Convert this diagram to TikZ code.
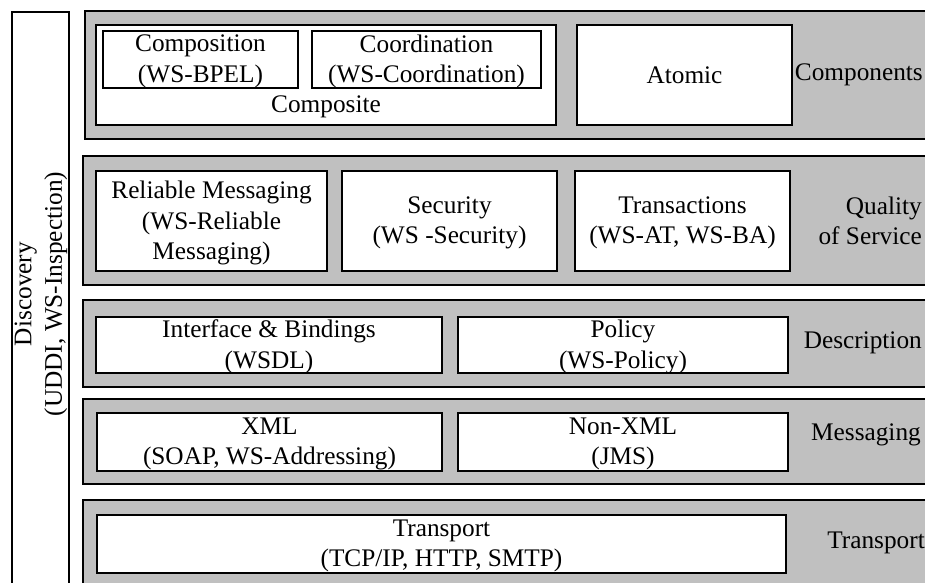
\documentclass[tikz,border=0pt]{standalone}
\usepackage{fontspec}
\setmainfont{Liberation Serif}
\usetikzlibrary{fit}
\definecolor{layergray}{RGB}{192,192,192}
\tikzset{
  base/.style={draw=black, line width=1.3pt, inner sep=0pt},
  layer/.style={base, fill=layergray},
  box/.style={base, fill=white},
  txt/.style={inner sep=0pt, align=center,
    font=\fontsize{25.3}{30.5}\selectfont},
  lbl/.style={txt, align=right, anchor=east},
}
\begin{document}
\begin{tikzpicture}[x=1pt, y=-1pt]
  \useasboundingbox (0,0) rectangle (925,582);
  \clip (0,0) rectangle (925,582);

  % vertical discovery column
  \node[box, fit={(12,12) (69,600)}] (disc) {};
  \node[txt, rotate=90] (disctext) at (41,294)
    {Discovery\\(UDDI, WS-Inspection)};

  % stacked layers
  \node[layer, fit={(85,11) (940,139)}]  (components) {};
  \node[layer, fit={(83,156) (940,285)}] (qos) {};
  \node[layer, fit={(83,300) (940,387)}] (description) {};
  \node[layer, fit={(83,399) (940,484)}] (messaging) {};
  \node[layer, fit={(83,500) (940,600)}] (transport) {};

  % components layer
  \node[box, fit={(96,25) (556,125)}] (composite) {};
  \node[box, fit={(103,31) (298,88)}] (composition) {};
  \node[txt] (compositiontext) at ([yshift=-2pt]composition.center) {Composition\\(WS-BPEL)};
  \node[box, fit={(312,31) (541,88)}] (coordination) {};
  \node[txt] (coordinationtext) at ([yshift=-2pt]coordination.center) {Coordination\\(WS-Coordination)};
  \node[txt] (compositetext) at (326,107) {Composite};
  \node[box, fit={(577,25) (792,125)}] (atomic) {};
  \node[txt] (atomictext) at (atomic.center) {Atomic};
  \node[lbl] (componentslbl) at (923,75) {Components};

  % quality of service layer
  \node[box, fit={(96,171) (327,271)}] (reliable) {};
  \node[txt] (reliabletext) at ([yshift=-2pt]reliable.center) {Reliable Messaging\\(WS-Reliable\\Messaging)};
  \node[box, fit={(342,171) (557,271)}] (security) {};
  \node[txt] (securitytext) at ([yshift=-2pt]security.center) {Security\\(WS -Security)};
  \node[box, fit={(575,171) (790,271)}] (transactions) {};
  \node[txt] (transactionstext) at ([yshift=-2pt]transactions.center) {Transactions\\(WS-AT, WS-BA)};
  \node[lbl] (qoslbl) at (922,221) {Quality\\of Service};

  % description layer
  \node[box, fit={(96,317) (442,373)}] (interface) {};
  \node[txt] (interfacetext) at ([yshift=-2pt]interface.center) {Interface \& Bindings\\(WSDL)};
  \node[box, fit={(458,317) (788,373)}] (policy) {};
  \node[txt] (policytext) at ([yshift=-2pt]policy.center) {Policy\\(WS-Policy)};
  \node[lbl] (descriptionlbl) at (922,343) {Description};

  % messaging layer
  \node[box, fit={(97,413) (442,471)}] (xml) {};
  \node[txt] (xmltext) at ([yshift=-2pt]xml.center) {XML\\(SOAP, WS-Addressing)};
  \node[box, fit={(458,413) (788,471)}] (nonxml) {};
  \node[txt] (nonxmltext) at ([yshift=-2pt]nonxml.center) {Non-XML\\(JMS)};
  \node[lbl] (messaginglbl) at (921,435) {Messaging};

  % transport layer
  \node[box, fit={(97,515) (786,573)}] (transportbox) {};
  \node[txt] (transporttext) at ([yshift=-2pt]transportbox.center) {Transport\\(TCP/IP, HTTP, SMTP)};
  \node[lbl] (transportlbl) at (925,543) {Transport};
\end{tikzpicture}
\end{document}
